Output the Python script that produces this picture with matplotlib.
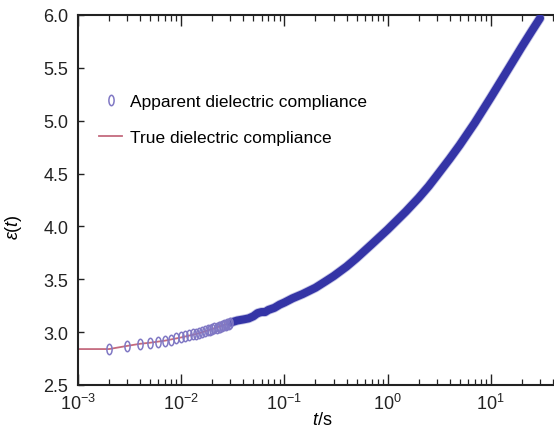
import matplotlib
matplotlib.use('Agg')
import matplotlib.pyplot as plt
import numpy as np
from matplotlib.path import Path
from matplotlib.ticker import LogLocator, FixedLocator, FormatStrFormatter, NullFormatter

plt.rcParams['font.family'] = ['Liberation Sans', 'DejaVu Sans']
plt.rcParams['mathtext.fontset'] = 'custom'
plt.rcParams['mathtext.rm'] = 'Liberation Sans'
plt.rcParams['mathtext.it'] = 'Liberation Sans:italic'

# apparent compliance, early samples (1 ms step) where single markers are visible
t_app = [0.002, 0.003, 0.004, 0.005, 0.006, 0.007, 0.008, 0.009, 0.010,
         0.011, 0.012, 0.013, 0.014, 0.015, 0.016, 0.017, 0.018, 0.019, 0.020,
         0.021, 0.022, 0.023, 0.024, 0.025, 0.026, 0.027, 0.028, 0.029, 0.030]
eps_app = [2.84, 2.87, 2.89, 2.90, 2.91, 2.92, 2.93, 2.94, 2.95,
           2.96, 2.97, 2.98, 2.98, 2.99, 3.00, 3.01, 3.02, 3.02, 3.03,
           3.04, 3.04, 3.05, 3.05, 3.06, 3.07, 3.07, 3.08, 3.08, 3.09]

# apparent compliance, later part where the markers merge into a band
t_band = [0.03, 0.035, 0.04, 0.045, 0.05, 0.055, 0.06, 0.065, 0.07, 0.08, 0.09,
          0.1, 0.12, 0.15, 0.2, 0.25, 0.3, 0.4, 0.5, 0.7, 1.0, 1.5, 2.0, 2.5,
          3.0, 4.0, 5.0, 7.0, 10.0, 15.0, 20.0, 25.0, 30.0]
eps_band = [3.09, 3.11, 3.12, 3.13, 3.15, 3.18, 3.19, 3.19, 3.21, 3.23, 3.26,
            3.28, 3.32, 3.36, 3.42, 3.48, 3.53, 3.62, 3.70, 3.83, 3.97, 4.14, 4.27, 4.38,
            4.48, 4.64, 4.77, 4.98, 5.22, 5.50, 5.70, 5.85, 5.97]

# true compliance
t_true = [0.001, 0.002, 0.003, 0.004, 0.005, 0.007, 0.01, 0.015, 0.02, 0.03,
          0.05, 0.07, 0.1, 0.15, 0.2, 0.3, 0.5, 0.7, 1.0, 1.5, 2.0, 3.0, 5.0,
          7.0, 10.0, 15.0, 20.0, 30.0]
eps_true = [2.84, 2.84, 2.87, 2.89, 2.90, 2.92, 2.95, 2.99, 3.03, 3.09,
            3.16, 3.21, 3.28, 3.36, 3.42, 3.53, 3.70, 3.83, 3.97, 4.14, 4.27, 4.48, 4.77,
            4.98, 5.22, 5.50, 5.70, 5.97]

xticks = [1e-3, 1e-2, 1e-1, 1e0, 1e1]
yticks = [2.5, 3.0, 3.5, 4.0, 4.5, 5.0, 5.5, 6.0]

# narrow ellipse marker ("0" shape)
circ = Path.unit_circle()
ellipse = Path(circ.vertices * np.array([0.5, 1.0]), circ.codes)

fig = plt.figure(figsize=(5.54, 4.31), dpi=100)
ax = fig.add_axes([78 / 554, 45 / 431, 516 / 554, 370 / 431])

ax.plot(t_true, eps_true, color='#c46a7e', lw=1.3, zorder=2,
        label='True dielectric compliance')
# soft edge of the dense marker band
ax.plot(t_band, eps_band, color='#5a5ab8', lw=7, alpha=0.35, solid_capstyle='round',
        solid_joinstyle='round', zorder=3)
ax.plot(t_band, eps_band, color='#3434a6', lw=5.8, solid_capstyle='round',
        solid_joinstyle='round', zorder=3)
ax.plot(t_app, eps_app, ls='none', marker=ellipse, ms=7.5, mfc='none',
        mec='#8078c4', mew=1.1, zorder=3,
        label='Apparent dielectric compliance')

ax.set_xscale('log')
ax.set_xlim(1e-3, 1e2)
ax.set_ylim(2.5, 6.0)
ax.yaxis.set_major_locator(FixedLocator(yticks))
ax.yaxis.set_major_formatter(FormatStrFormatter('%.1f'))
ax.xaxis.set_major_locator(FixedLocator(xticks))
ax.xaxis.set_minor_locator(LogLocator(base=10, subs=np.arange(2, 10), numticks=20))
ax.xaxis.set_minor_formatter(NullFormatter())

for s in ax.spines.values():
    s.set_linewidth(1.5)
    s.set_color('#222222')
ax.tick_params(axis='x', which='major', direction='in', length=8, width=1.0,
               top=True, labelsize=13, pad=6, colors='#222222')
ax.tick_params(axis='x', which='minor', direction='in', length=4, width=0.9,
               top=True, colors='#222222')
ax.tick_params(axis='y', which='major', direction='in', length=4, width=1.0,
               labelsize=13, pad=7, colors='#222222')

ax.set_xlabel(r'$t$/s', fontsize=13, labelpad=-1)
ax.xaxis.set_label_coords((322 - 78) / 516, -0.07)
ax.set_ylabel(r'$\varepsilon(t)$', fontsize=13)
ax.yaxis.set_label_coords(-0.105, 0.43)

handles, labels = ax.get_legend_handles_labels()
ax.legend(handles[::-1], labels[::-1], loc='upper left',
          bbox_to_anchor=(21 / 516, 0.786), frameon=False, fontsize=12.5,
          handlelength=1.35, handletextpad=0.45, labelspacing=1.18,
          borderpad=0, borderaxespad=0)

fig.savefig('out.png', dpi=100)
